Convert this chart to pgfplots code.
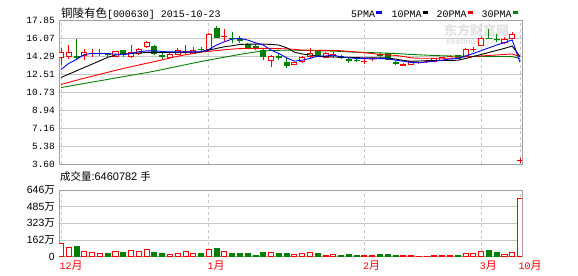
\documentclass[border=0pt]{standalone}
\usepackage{fontspec}
\usepackage{pgfplots}
\usepackage{pgfplotstable}
\pgfplotsset{compat=1.18}
\setmainfont{Liberation Mono}
\newfontfamily\cjk{Noto Sans CJK SC}
\newfontfamily\sans{Liberation Sans}
\definecolor{upred}{HTML}{FF0000}
\definecolor{dngreen}{HTML}{008000}
\definecolor{gridc}{HTML}{C8C8C8}
\definecolor{framec}{HTML}{A0A0A0}
\definecolor{mablue}{HTML}{0000FF}
\definecolor{wmark}{HTML}{E2E2E2}

\pgfplotstableread{
i O H L C V
0 14.16 15.05 13.40 14.65 129
1 14.22 15.38 13.99 14.65 90
3 14.32 14.95 13.89 14.65 48
4 14.53 14.95 14.22 14.56 39
5 14.52 14.95 14.29 14.55 32
7 14.29 14.78 14.16 14.71 48
9 14.22 15.38 14.12 14.65 58
10 14.55 15.11 14.39 14.98 55
11 15.21 15.77 15.05 15.60 71
14 14.12 14.61 14.06 14.48 23
15 14.48 15.05 14.39 14.81 32
16 14.72 15.38 14.48 14.75 48
17 14.55 15.21 14.45 14.88 35
19 14.95 16.53 14.88 16.43 71
21 16.18 16.93 15.70 16.21 48
27 13.89 14.39 13.23 14.29 42
30 13.50 13.75 13.45 13.66 23
31 13.76 14.32 13.57 14.16 32
32 14.26 15.08 14.09 14.58 42
34 14.19 14.70 14.06 14.52 16
35 14.41 14.68 14.09 14.44 23
39 13.74 13.96 13.53 13.77 16
40 14.07 14.19 13.76 14.10 16
44 13.40 13.62 13.33 13.43 16
45 13.50 13.80 13.45 13.72 16
46 13.64 13.75 13.55 13.67 6
47 13.74 13.85 13.65 13.77 6
48 13.72 14.10 13.68 14.06 16
49 13.89 14.20 13.85 14.16 16
50 14.27 14.35 14.20 14.30 16
52 14.29 15.05 14.16 14.95 32
53 14.93 15.15 14.71 14.96 32
54 15.38 16.14 15.28 16.04 55
57 15.60 16.14 15.44 15.94 23
58 16.04 16.63 15.97 16.43 42
59 3.98 4.20 3.75 4.02 566
}\up

\pgfplotstableread{
i O H L C V
2 14.24 15.94 13.89 14.20 103
6 14.50 14.55 14.16 14.44 32
8 14.88 14.88 14.22 14.48 42
12 15.28 15.38 14.39 14.55 42
13 14.34 14.55 13.96 14.30 32
18 14.98 15.21 14.72 14.95 32
20 17.03 17.26 16.04 16.14 81
22 16.06 16.63 15.54 16.02 32
23 15.89 16.27 15.54 15.85 32
24 15.47 15.54 14.95 15.05 32
25 15.23 15.47 14.88 15.19 16
26 14.88 15.05 13.89 14.22 42
28 14.24 14.55 13.89 14.20 32
29 13.62 14.06 13.07 13.33 32
33 14.75 14.75 14.20 14.26 32
36 14.24 14.36 14.02 14.20 16
37 13.95 14.09 13.62 13.91 26
38 13.91 14.02 13.69 13.87 16
41 14.43 14.61 14.19 14.39 26
42 14.52 14.58 13.86 13.96 26
43 13.64 13.76 13.43 13.60 16
51 14.39 14.42 14.02 14.06 16
55 16.06 16.93 15.94 16.02 58
56 15.97 16.43 15.70 15.93 39
}\down

\pgfplotstableread{
i m5 m10 m20 m30
0 12.97 12.18 11.49 11.19
1 13.57 12.51 11.70 11.32
2 13.96 12.84 11.91 11.46
3 14.45 13.17 12.11 11.59
4 14.55 13.50 12.30 11.73
5 14.55 13.83 12.50 11.86
6 14.55 14.16 12.69 11.99
7 14.48 14.40 12.88 12.13
8 14.45 14.48 13.07 12.26
9 14.55 14.55 13.24 12.40
10 14.72 14.60 13.41 12.53
11 14.81 14.65 13.58 12.66
12 14.81 14.65 13.74 12.80
13 14.75 14.65 13.92 12.96
14 14.70 14.65 14.10 13.12
15 14.70 14.65 14.27 13.28
16 14.70 14.66 14.42 13.44
17 14.70 14.68 14.55 13.60
18 14.72 14.70 14.68 13.76
19 14.95 14.88 14.76 13.90
20 15.38 15.05 14.84 14.04
21 15.70 15.21 14.91 14.18
22 15.97 15.31 14.98 14.32
23 16.04 15.44 15.03 14.46
24 15.87 15.47 15.05 14.58
25 15.60 15.47 15.05 14.70
26 15.38 15.47 15.05 14.78
27 14.88 15.44 15.05 14.84
28 14.55 15.38 15.03 14.86
29 14.12 15.11 15.00 14.87
30 13.79 14.68 14.96 14.87
31 13.89 14.50 14.88 14.85
32 14.06 14.40 14.87 14.83
33 14.29 14.28 14.86 14.81
34 14.30 14.24 14.85 14.80
35 14.38 14.20 14.84 14.78
36 14.22 14.19 14.82 14.75
37 14.12 14.16 14.75 14.70
38 14.06 14.14 14.70 14.67
39 14.06 14.12 14.62 14.65
40 14.00 14.12 14.55 14.63
41 14.04 14.12 14.45 14.61
42 14.04 14.10 14.40 14.58
43 13.89 14.00 14.36 14.55
44 13.79 13.86 14.25 14.50
45 13.66 13.78 14.12 14.45
46 13.63 13.80 14.08 14.42
47 13.70 13.84 14.08 14.38
48 13.80 13.86 14.08 14.35
49 13.89 13.86 14.08 14.32
50 14.00 13.86 14.08 14.30
51 14.05 13.88 14.12 14.29
52 14.30 14.05 14.22 14.28
53 14.55 14.25 14.25 14.27
54 14.82 14.45 14.30 14.26
55 15.10 14.65 14.35 14.25
56 15.38 14.85 14.40 14.25
57 15.62 15.05 14.45 14.25
58 15.88 15.28 14.50 14.24
59 13.70 14.25 14.25 14.05
}\ma

\pgfplotsset{
  base/.style={scale only axis, width=463bp, xmin=-0.26, xmax=59.26, anchor=south west},
  price/.style={base, at={(59bp,111.5bp)}, height=144.5bp, ymin=3.6, ymax=17.85},
  vol/.style={base, at={(59bp,19.3bp)}, height=66.7bp, ymin=0, ymax=646},
  frame/.style={
    axis line style={framec, line width=0.9bp},
    xtick={0,19,39,54,59},
    xmajorgrids, ymajorgrids,
    x grid style={gridc, dash pattern=on 3bp off 3bp, line width=0.9bp},
    y grid style={gridc, line width=0.9bp},
    major tick length=0pt,
    yticklabel style={anchor=east, inner sep=0pt, xshift=-4bp},
  },
}

\begin{document}
\begin{tikzpicture}
\path[use as bounding box] (0,0) rectangle (578bp,276bp);
% watermark
\node[anchor=west, inner sep=0pt, text=wmark] at (444bp,245bp) {\fontsize{13}{13}\selectfont\cjk\bfseries 东方财富网};
\node[anchor=west, inner sep=0pt, text=wmark] at (446bp,233.5bp) {\fontsize{8.5}{9}\selectfont\sans\bfseries eastmoney.com};

% price frame, grid and wicks
\begin{axis}[price, frame,
  xticklabels={},
  ytick={3.6,5.38125,7.1625,8.94375,10.725,12.50625,14.2875,16.06875,17.85},
  yticklabels={3.60,5.38,7.16,8.94,10.73,12.51,14.29,16.07,17.85},
  yticklabel style={font=\fontsize{9.5}{10}\selectfont},
]
\addplot[draw=none, error bars/.cd, y dir=plus, y explicit, error mark=none,
  error bar style={draw=upred, line width=0.9bp}]
  table[x=i, y=L, y error expr=\thisrow{H}-\thisrow{L}] {\up};
\addplot[draw=none, error bars/.cd, y dir=plus, y explicit, error mark=none,
  error bar style={draw=dngreen, line width=0.9bp}]
  table[x=i, y=L, y error expr=\thisrow{H}-\thisrow{L}] {\down};
\end{axis}

% up bodies
\begin{axis}[price, hide axis, ybar stacked, bar width=0.65]
\addplot[draw=none, fill=none] table[x=i, y=O] {\up};
\addplot[draw=upred, fill=white, line width=0.9bp] table[x=i, y expr=\thisrow{C}-\thisrow{O}] {\up};
\end{axis}

% down bodies
\begin{axis}[price, hide axis, ybar stacked, bar width=0.65]
\addplot[draw=none, fill=none] table[x=i, y=C] {\down};
\addplot[draw=dngreen, fill=dngreen, line width=0.9bp] table[x=i, y expr=\thisrow{O}-\thisrow{C}] {\down};
\end{axis}

% moving averages
\begin{axis}[price, hide axis]
\addplot[dngreen, line width=0.9bp] table[x=i, y=m30] {\ma};
\addplot[upred, line width=0.9bp] table[x=i, y=m20] {\ma};
\addplot[black, line width=0.9bp] table[x=i, y=m10] {\ma};
\addplot[mablue, line width=0.9bp] table[x=i, y=m5] {\ma};
\end{axis}

% volume
\begin{axis}[vol, frame,
  xticklabels={{12{\fontsize{11}{11}\selectfont\cjk 月}},{1{\fontsize{11}{11}\selectfont\cjk 月}},{2{\fontsize{11}{11}\selectfont\cjk 月}},{3{\fontsize{11}{11}\selectfont\cjk 月}},{10{\fontsize{11}{11}\selectfont\cjk 月}}},
  xticklabel style={text=upred, anchor=north west, inner sep=0pt, xshift=-1.5bp, yshift=-4bp, font=\fontsize{10}{11}\selectfont},
  ytick={0,161.5,323,484.5,646},
  yticklabels={0,{162{\cjk 万}},{323{\cjk 万}},{485{\cjk 万}},{646{\cjk 万}}},
  yticklabel style={font=\fontsize{10.5}{11}\selectfont\sans},
  ybar, bar width=0.65,
]
\addplot[bar shift=0pt, draw=upred, fill=white, line width=0.9bp] table[x=i, y=V] {\up};
\addplot[bar shift=0pt, draw=dngreen, fill=dngreen, line width=0.9bp] table[x=i, y=V] {\down};
\end{axis}

% title and legend
\node[anchor=base west, inner sep=0pt] at (61bp,258bp) {{\fontsize{11.5}{12}\selectfont\cjk 铜陵有色}\fontsize{10}{12}\selectfont[000630] 2015-10-23};
\node[anchor=base west, inner sep=0pt] at (351bp,258.7bp) {\fontsize{10}{12}\selectfont 5PMA\hspace{1bp}\textcolor{mablue}{\rule[3bp]{5.5bp}{3bp}}};
\node[anchor=base west, inner sep=0pt] at (391.5bp,258.7bp) {\fontsize{10}{12}\selectfont 10PMA\hspace{1bp}\textcolor{black}{\rule[3bp]{5.5bp}{3bp}}};
\node[anchor=base west, inner sep=0pt] at (436.5bp,258.7bp) {\fontsize{10}{12}\selectfont 20PMA\hspace{1bp}\textcolor{upred}{\rule[3bp]{5.5bp}{3bp}}};
\node[anchor=base west, inner sep=0pt] at (481.5bp,258.7bp) {\fontsize{10}{12}\selectfont 30PMA\hspace{1bp}\textcolor{dngreen}{\rule[3bp]{5.5bp}{3bp}}};
\node[anchor=base west, inner sep=0pt] at (60bp,95bp) {{\fontsize{10.5}{12}\selectfont\cjk 成交量}{\fontsize{11}{12}\selectfont\sans :6460782 }{\fontsize{10.5}{12}\selectfont\cjk 手}};
\end{tikzpicture}
\end{document}
